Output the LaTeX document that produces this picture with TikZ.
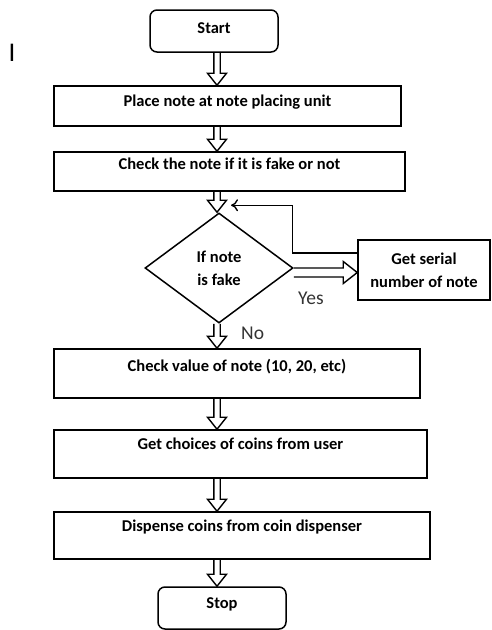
\documentclass[tikz,border=0pt]{standalone}
\usepackage{fontspec}
\setmainfont{Carlito}
\usetikzlibrary{calc,shapes.geometric,arrows.meta}
\newcommand{\vblock}[2]{%
  \draw[blockarrow] let \p1=(#1.south -| ax), \p2=(#2.north -| ax) in
    (\x1-3.2pt,\y1) -- (\x1-3.2pt,\y2+12pt) -- (\x1-9.5pt,\y2+12pt) -- (\x1,\y2)
    -- (\x1+9.5pt,\y2+12pt) -- (\x1+3.2pt,\y2+12pt) -- (\x1+3.2pt,\y1);}
\tikzset{
  every node/.style={font=\bfseries\fontsize{16.5}{19}\selectfont, inner sep=0pt},
  box/.style={draw, line width=1.5pt, text height=10pt, text depth=2pt+2*#1},
  box/.default=0pt,
  twoline/.style={draw, line width=1.5pt, align=center, font=\bfseries\fontsize{16.5}{23}\selectfont},
  term/.style={box=#1, rounded corners=7pt},
  blockarrow/.style={line width=1.4pt, line join=miter},
  fback/.style={line width=1.4pt, -{To[length=7pt,width=12pt]}},
  lbl/.style={font=\fontsize{19.5}{22}\selectfont, text=black!80},
}
\begin{document}
\begin{tikzpicture}[x=1pt,y=-1pt]
\useasboundingbox (0,0) rectangle (491,630);
\coordinate (ax) at (217,0);
\node[lbl, font=\fontsize{27}{29}\selectfont, text=black] (mark) at (12,53) {I};
\node[term=1.5pt, minimum width=128pt, minimum height=42pt] (start) at (214,31) {Start};
\node[box=4pt, minimum width=347pt, minimum height=40pt] (place) at (227.5,106) {Place note at note placing unit};
\node[box=6pt, minimum width=351pt, minimum height=39pt] (check) at (229.5,171.5) {Check the note if it is fake or not};
\node[twoline, diamond, minimum width=148pt, minimum height=110pt] (dec) at (219,268) {If note\\is fake};
\node[twoline, minimum width=132pt, minimum height=60pt] (serial) at (424,270) {Get serial\\number of note};
\node[box=6.5pt, minimum width=366pt, minimum height=49pt] (value) at (237,373.5) {Check value of note (10, 20, etc)};
\node[box=9pt, minimum width=373pt, minimum height=48pt] (choice) at (240.5,454) {Get choices of coins from user};
\node[box=8.5pt, minimum width=376pt, minimum height=47pt] (disp) at (242,535.5) {Dispense coins from coin dispenser};
\node[term=4pt, minimum width=128pt, minimum height=42pt] (stop) at (222,608) {Stop};
\vblock{start}{place}
\vblock{place}{check}
\vblock{check}{dec}
\vblock{dec}{value}
\vblock{value}{choice}
\vblock{choice}{disp}
\vblock{disp}{stop}
% yes arrow
\coordinate (ya) at ($(dec.east)+(0,4.5)$);
\coordinate (yb) at ($(serial.west)+(0,4.5)$);
\draw[blockarrow] let \p1=(ya), \p2=(yb) in
  (\x1,\y1+4.5pt) -- (\x2-14pt,\y1+4.5pt) -- (\x2-14pt,\y1+11pt) -- (\x2,\y1)
  -- (\x2-14pt,\y1-11pt) -- (\x2-14pt,\y1-4.5pt) -- (\x1,\y1-4.5pt);
% feedback
\coordinate (fb) at ($(serial.west)+(0,-17)$);
\coordinate (fbin) at ($(dec.north)+(12,-7)$);
\draw[fback] (fb) -- ++(-65,0) |- (fbin);
\node[lbl, anchor=west] (yes) at (298,298) {Yes};
\node[lbl, anchor=west] (no) at (241,333) {No};
\end{tikzpicture}
\end{document}
